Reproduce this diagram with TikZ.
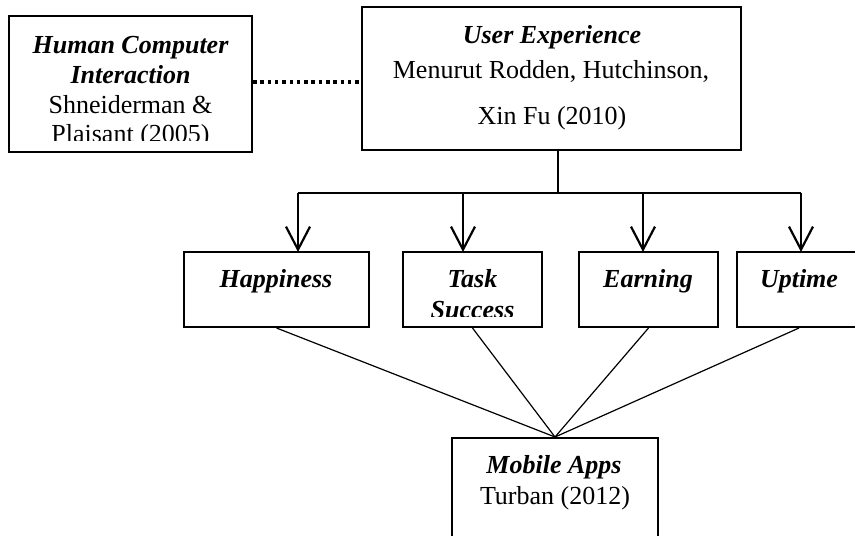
\documentclass[tikz,border=0pt]{standalone}
\usepackage{fontspec}
\setmainfont{Liberation Serif}
\usetikzlibrary{arrows.meta}
\tikzset{
  boxnode/.style={draw, line width=2pt, rectangle, inner sep=0pt, anchor=center},
  txt/.style={anchor=base, inner sep=0pt, font=\fontsize{26}{30}\selectfont},
  ttl/.style={txt, font=\fontsize{26}{30}\selectfont\bfseries\itshape},
  thinline/.style={line width=1.3pt},
  arr/.style={line width=2.2pt, -{Straight Barb[length=23pt,width=24pt]}},
  dotline/.style={line width=3.5pt, dash pattern=on 3.5pt off 3.8pt},
  fan/.style={line width=1.2pt}
}
\begin{document}
\begin{tikzpicture}[x=1pt,y=-1pt]
\useasboundingbox (0,0) rectangle (855,536);
\clip (0,0) rectangle (855,536);
% boxes
\node[boxnode, minimum width=243pt, minimum height=136pt] (hci) at (130.5,84) {};
\node[boxnode, line width=2.5pt, minimum width=379pt, minimum height=143pt] (ux) at (551.5,78.5) {};
\node[boxnode, minimum width=185pt, minimum height=75pt] (hap) at (276.5,289.5) {};
\node[boxnode, minimum width=139pt, minimum height=75pt] (task) at (472.5,289.5) {};
\node[boxnode, minimum width=139pt, minimum height=75pt] (earn) at (648.5,289.5) {};
\node[boxnode, minimum width=124pt, minimum height=75pt] (upt) at (799,289.5) {};
\node[boxnode, minimum width=206pt, minimum height=122pt] (mob) at (555,499) {};
% texts
\begin{scope}
\clip (9,16) rectangle (252,140);
\node[ttl] (hci1) at (130.5,53) {Human Computer};
\node[ttl] (hci2) at (130.5,83) {Interaction};
\node[txt] (hci3) at (130.5,113) {Shneiderman \&};
\node[txt] (hci4) at (130.5,142) {Plaisant (2005)};
\end{scope}
\node[ttl] (ux1) at (552,43) {User Experience};
\node[txt] (ux2) at (551,78) {Menurut Rodden, Hutchinson,};
\node[txt] (ux3) at (552,124) {Xin Fu (2010)};
\node[ttl] (hapt) at (276,287) {Happiness};
\begin{scope}
\clip (403,252) rectangle (542,316.5);
\node[ttl] (task1) at (472.5,287) {Task};
\node[ttl] (task2) at (472.5,318) {Success};
\end{scope}
\node[ttl] (earnt) at (648,287) {Earning};
\node[ttl] (uptt) at (799,287) {Uptime};
\node[ttl] (mob1) at (554,473) {Mobile Apps};
\node[txt] (mob2) at (555,504) {Turban (2012)};
% connectors
\draw[dotline] (hci.east |- 0,82) -- (ux.west |- 0,82);
\coordinate (j) at (558,193);
\coordinate (a1) at (298,193);
\coordinate (a2) at (463,193);
\coordinate (a3) at (643,193);
\coordinate (a4) at (801,193);
\draw[thinline] (ux.south -| j) -- (j);
\draw[thinline] (a1) -- (a4);
\draw[arr] (a1) -- ([yshift=-1pt]a1 |- hap.north);
\draw[arr] (a2) -- ([yshift=-1pt]a2 |- task.north);
\draw[arr] (a3) -- ([yshift=-1pt]a3 |- earn.north);
\draw[arr] (a4) -- ([yshift=-1pt]a4 |- upt.north);
\draw[fan] (hap.south) -- (mob.north);
\draw[fan] (task.south) -- (mob.north);
\draw[fan] (earn.south) -- (mob.north);
\draw[fan] (upt.south) -- (mob.north);
\end{tikzpicture}
\end{document}
